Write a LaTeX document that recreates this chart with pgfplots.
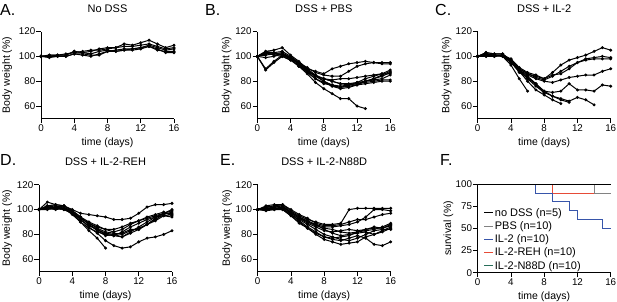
\documentclass[border=0pt]{standalone}
\usepackage{pgfplots}
\usepackage{pgfplotstable}
\pgfplotsset{compat=1.18}
\usepackage{fontspec}
\setmainfont{Liberation Sans}
\definecolor{blueF}{RGB}{55,85,170}
\definecolor{redF}{RGB}{230,75,55}
\definecolor{greenF}{RGB}{40,110,90}
\definecolor{grayF}{RGB}{130,130,130}

\pgfplotstableread{
d s1 s2 s3 s4 s5
0 100 100 100 100 100
1 101 101 100 99 100
2 101 101 100 100 101
3 101 102 100 100 101
4 104 103 102 102 104
5 103 104 102 101 103
6 104 105 101 100 102
7 106 105 101 102 104
8 107 106 104 104 105
9 107 107 105 104 104
10 110 108 106 105 105
11 109 108 106 105 106
12 111 109 107 106 107
13 113 110 109 108 108
14 110 108 107 105 106
15 107 106 105 104 103
16 109 107 106 104 103
}\tabA

\pgfplotstableread{
d s1 s2 s3 s4 s5 s6 s7 s8 s9 s10
0 100 100 100 100 100 100 100 100 100 100
1 104 103 90 89 102 101 104 102 99 103
2 105 103 96 95 102 102 103 102 100 101
3 107 104 101 100 103 102 101 101 102 100
4 101 100 98 97 99 98 99 98 99 97
5 96 95 94 93 94 92 95 95 94 92
6 90 89 88 87 88 86 90 91 89 88
7 85 84 82 82 84 79 88 87 84 85
8 80 82 79 78 80 74 86 85 82 82
9 76 80 76 77 77 70 90 84 80 81
10 74 78 75 76 75 66 92 84 78 82
11 75 77 76 77 77 66 94 88 78 82
12 77 78 77 78 79 60 95 92 79 83
13 80 80 78 79 82 58 96 94 80 84
14 82 82 79 80 84 nan 95 95 81 85
15 85 84 80 81 86 nan 94 95 82 86
16 88 87 80 81 89 nan 94 95 85 86
}\tabB

\pgfplotstableread{
d s1 s2 s3 s4 s5 s6 s7 s8 s9 s10
0 100 100 100 100 100 100 100 100 100 100
1 103 101 102 100 101 102 101 103 100 102
2 102 101 100 101 100 101 101 102 100 101
3 102 101 101 100 101 100 100 102 101 101
4 97 98 97 96 95 93 95 96 96 97
5 90 91 90 89 88 82 88 87 89 89
6 86 87 86 85 83 72 80 83 84 82
7 84 85 83 82 77 nan 73 78 78 76
8 82 82 81 80 72 nan 69 72 70 71
9 87 85 84 79 71 nan 65 68 nan 68
10 93 86 88 81 72 nan 62 66 nan 65
11 97 90 92 83 78 nan nan 64 nan 63
12 99 95 95 84 73 nan nan 67 nan nan
13 101 98 97 85 73 nan nan 65 nan nan
14 104 99 98 85 72 nan nan 61 nan nan
15 107 100 98 88 77 nan nan nan nan nan
16 105 99 98 90 76 nan nan nan nan nan
}\tabC

\pgfplotstableread{
d s1 s2 s3 s4 s5 s6 s7 s8 s9 s10
0 100 100 100 100 100 100 100 100 100 100
1 106 101 101 102 103 100 102 101 103 102
2 104 102 101 103 104 101 101 100 103 102
3 103 103 100 101 103 100 101 101 102 101
4 100 99 97 97 99 97 98 96 98 99
5 97 94 92 90 94 93 92 90 93 94
6 96 88 86 83 90 89 87 85 89 88
7 95 84 81 77 87 85 84 82 86 83
8 94 80 75 69 84 82 81 80 84 79
9 92 79 71 nan 82 81 80 79 84 80
10 92 78 69 nan 84 80 78 82 86 81
11 93 82 70 nan 88 83 81 86 89 84
12 97 86 74 nan 91 85 84 89 91 84
13 102 90 77 nan 93 88 88 92 94 88
14 104 94 78 nan 95 92 93 94 96 91
15 104 97 80 nan 97 96 97 95 98 95
16 105 99 83 nan 100 98 97 96 95 94
}\tabD

\pgfplotstableread{
d s1 s2 s3 s4 s5 s6 s7 s8 s9 s10
0 100 100 100 100 100 100 100 100 100 100
1 102 101 103 100 101 102 99 102 101 100
2 103 102 104 101 101 103 100 102 101 100
3 104 103 104 101 100 103 101 102 102 100
4 99 98 100 96 95 97 96 97 98 95
5 95 94 96 91 90 93 92 93 94 89
6 92 90 93 86 85 89 88 90 91 85
7 90 88 89 82 81 86 84 87 88 80
8 88 86 87 78 78 83 80 85 84 76
9 88 86 87 76 77 82 78 84 81 74
10 89 87 88 75 78 83 76 82 79 72
11 100 88 90 77 79 84 75 81 80 73
12 101 90 92 79 82 83 77 82 81 74
13 101 94 92 77 83 84 80 84 82 78
14 101 100 94 72 84 85 83 86 80 80
15 101 100 96 71 86 85 84 85 83 82
16 101 99 97 74 89 87 84 88 86 85
}\tabE

\newcommand{\fs}{\fontsize{11}{13}\selectfont}
\newcommand{\fl}{\fontsize{10.5}{12.5}\selectfont}
\newcommand{\ft}{\fontsize{9.8}{11.5}\selectfont}
\pgfplotsset{
  panel/.style={
    scale only axis, width=133pt, height=87pt,
    xmin=0, xmax=16, ymin=50, ymax=120,
    axis x line*=bottom, axis y line*=left,
    axis line style={line width=0.9pt, black},
    xtick={0,4,8,12,16}, ytick={60,80,100,120},
    tick align=outside, major tick length=4.5pt,
    tick style={line width=0.9pt, black},
    /pgf/number format/assume math mode=true,
    ticklabel style={font=\ft},
    yticklabel style={inner sep=1pt},
    xticklabel style={inner sep=1.5pt},
    label style={font=\fl},
    title style={font=\fs, at={(axis description cs:0.5,1)}, anchor=center, yshift=16.5pt},
    xlabel={time (days)}, ylabel={Body weight (\%)},
    xlabel style={at={(axis description cs:0.5,0)}, anchor=center, yshift=-24pt},
    clip=false,
  },
  wline/.style={black, line width=1pt, mark=*, mark size=0.95pt},
}

\begin{document}
\begin{tikzpicture}
\useasboundingbox (0pt,0pt) rectangle (617pt,301pt);

% Panel A
\begin{axis}[panel, at={(41pt,182.5pt)}, anchor=south west, title={No DSS},
  ylabel style={at={(axis description cs:-0.255,0.5)}, anchor=center}]
\pgfplotsinvokeforeach{1,...,5}{\addplot[wline] table[x=d,y=s#1]{\tabA};}
\end{axis}

% Panel B
\begin{axis}[panel, at={(257.3pt,182.5pt)}, anchor=south west, title={DSS + PBS},
  ylabel style={at={(axis description cs:-0.23,0.5)}, anchor=center}]
\pgfplotsinvokeforeach{1,...,10}{\addplot[wline] table[x=d,y=s#1]{\tabB};}
\end{axis}

% Panel C
\begin{axis}[panel, at={(477.7pt,182.5pt)}, anchor=south west, title={DSS + IL-2},
  ylabel style={at={(axis description cs:-0.233,0.5)}, anchor=center}]
\pgfplotsinvokeforeach{1,...,10}{\addplot[wline] table[x=d,y=s#1]{\tabC};}
\end{axis}

% Panel D
\begin{axis}[panel, at={(39pt,29.3pt)}, anchor=south west, title={DSS + IL-2-REH},
  ylabel style={at={(axis description cs:-0.24,0.5)}, anchor=center}]
\pgfplotsinvokeforeach{1,...,10}{\addplot[wline] table[x=d,y=s#1]{\tabD};}
\end{axis}

% Panel E
\begin{axis}[panel, at={(257.7pt,29.3pt)}, anchor=south west, title={DSS + IL-2-N88D},
  ylabel style={at={(axis description cs:-0.23,0.5)}, anchor=center}]
\pgfplotsinvokeforeach{1,...,10}{\addplot[wline] table[x=d,y=s#1]{\tabE};}
\end{axis}

% Panel F
\begin{axis}[panel, at={(477.7pt,28.3pt)}, anchor=south west, height=88.4pt,
  ymin=0, ymax=100, ytick={0,25,50,75,100}, ylabel={survival (\%)},
  ylabel style={at={(axis description cs:-0.22,0.5)}, anchor=center},
  legend style={at={(axis description cs:0.045,0.745)}, anchor=north west,
    draw=none, fill=none, font=\fs, row sep=1.8pt, inner sep=0pt,
    nodes={inner sep=1pt}},
  legend cell align=left,
  legend image code/.code={\draw[#1, line width=1pt] (0pt,0pt) -- (9pt,0pt);}]
\addplot[greenF, line width=1pt, const plot, forget plot] coordinates {(0,100) (16,100)};
\addplot[redF, line width=1pt, const plot, forget plot] coordinates {(0,100) (9,90) (16,90)};
\addplot[blueF, line width=1pt, const plot, forget plot] coordinates {(0,100) (7,90) (9,80) (11,70) (12,60) (15,50) (16,50)};
\addplot[grayF, line width=1pt, const plot, forget plot] coordinates {(0,100) (14,90) (16,90)};
\addplot[black, line width=1pt, const plot, forget plot] coordinates {(0,100) (16,100)};
\addlegendimage{black}
\addlegendimage{grayF}
\addlegendimage{blueF}
\addlegendimage{redF}
\addlegendimage{greenF}
\legend{{no DSS (n=5)},{PBS (n=10)},{IL-2 (n=10)},{IL-2-REH (n=10)},{IL-2-N88D (n=10)}}
\end{axis}

% Panel letters
\begin{scope}[every node/.style={anchor=base west, inner sep=0pt, font=\fontsize{16}{18}\selectfont}]
\node at (0pt,286pt) {A.};
\node at (205pt,286pt) {B.};
\node at (435pt,286pt) {C.};
\node at (0pt,136pt) {D.};
\node at (220pt,136pt) {E.};
\node at (440pt,136pt) {F.};
\end{scope}
\end{tikzpicture}
\end{document}
